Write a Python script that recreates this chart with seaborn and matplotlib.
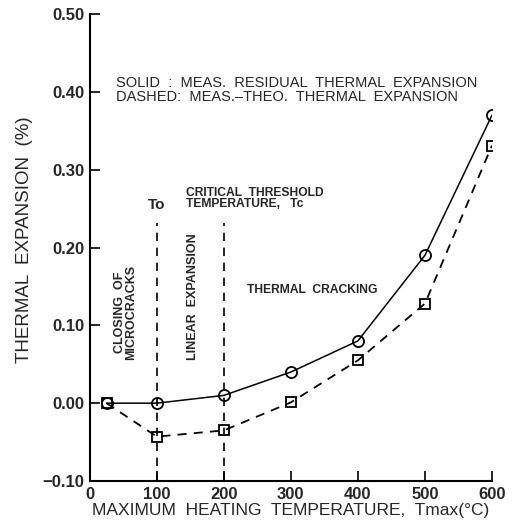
import matplotlib
matplotlib.use("Agg")
import matplotlib.pyplot as plt
import seaborn as sns
import pandas as pd

temps = [25, 100, 200, 300, 400, 500, 600]
solid_vals = [0.0, 0.0, 0.01, 0.04, 0.08, 0.19, 0.37]
dashed_vals = [0.0, -0.043, -0.035, 0.001, 0.055, 0.128, 0.331]
vline_x = [100, 200]
xticks = [0, 100, 200, 300, 400, 500, 600]
yticks = [-0.10, 0.00, 0.10, 0.20, 0.30, 0.40, 0.50]

sns.set_theme(style="ticks")
plt.rcParams['font.family'] = ['Liberation Sans', 'DejaVu Sans']

fig = plt.figure(figsize=(5.13, 5.20), dpi=100)
ax = fig.add_axes([0.175, 0.075, 0.784, 0.898])

df_s = pd.DataFrame({"T": temps, "v": solid_vals})
df_d = pd.DataFrame({"T": temps, "v": dashed_vals})
sns.lineplot(data=df_s, x="T", y="v", ax=ax, color="black", lw=1.1,
             marker="o", markersize=8, markerfacecolor="none",
             markeredgecolor="black", markeredgewidth=1.3)
sns.lineplot(data=df_d, x="T", y="v", ax=ax, color="black", lw=1.3,
             linestyle=(0, (5, 4)), marker="s", markersize=7,
             markerfacecolor="none", markeredgecolor="black", markeredgewidth=1.3)

ax.vlines(vline_x, -0.10, 0.232, colors="black", linestyles=(0, (5, 4)), lw=1.2)

ax.set_xlim(0, 600)
ax.set_ylim(-0.10, 0.50)
ax.set_xticks(xticks)
ax.set_xticklabels([str(t) for t in xticks], fontsize=12, fontweight="bold")
ax.set_yticks(yticks)
ax.set_yticklabels([f"{v:.2f}" if v >= 0 else "\u2212" + f"{-v:.2f}" for v in yticks],
                   fontsize=12, fontweight="bold")
ax.tick_params(direction="in", length=7, width=1.2, color="black", pad=4)
for s in ["top", "right"]:
    ax.spines[s].set_visible(False)
for s in ["left", "bottom"]:
    ax.spines[s].set_linewidth(1.5)
    ax.spines[s].set_color("black")

ax.set_xlabel("MAXIMUM  HEATING  TEMPERATURE,  Tmax(\u00b0C)", fontsize=12.5, labelpad=1)
ax.set_ylabel("THERMAL  EXPANSION  (%)", fontsize=13.5)
ax.yaxis.set_label_coords(-0.14, 0.516)

fs = 10.5
ax.text(39, 0.385, "SOLID  :  MEAS.  RESIDUAL  THERMAL  EXPANSION\nDASHED:  MEAS.\u2013THEO.  THERMAL  EXPANSION",
        fontsize=fs, ha="left", va="bottom", linespacing=0.95)
ax.text(100, 0.255, "To", fontsize=11, fontweight="bold", ha="center", va="center")
ax.text(143, 0.248, "CRITICAL  THRESHOLD\nTEMPERATURE,   Tc", fontsize=8.7,
        fontweight="bold", ha="left", va="bottom", linespacing=0.95)
ax.text(53, 0.055, "CLOSING  OF\nMICROCRACKS", fontsize=9, fontweight="bold",
        rotation=90, ha="center", va="bottom", linespacing=0.9)
ax.text(154, 0.055, "LINEAR  EXPANSION", fontsize=9, fontweight="bold",
        rotation=90, ha="center", va="bottom")
ax.text(234, 0.145, "THERMAL  CRACKING", fontsize=8.7, fontweight="bold",
        ha="left", va="center")

fig.savefig("out.png", dpi=100)
